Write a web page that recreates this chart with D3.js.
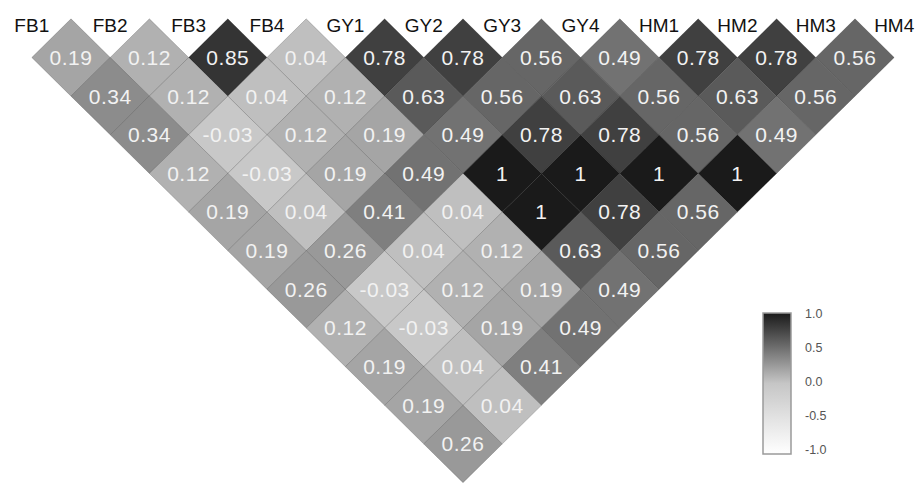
<!DOCTYPE html>
<html>
<head>
<meta charset="utf-8">
<script src="https://cdn.jsdelivr.net/npm/d3@7"></script>
<style>
  body { margin: 0; background: #fff; }
  svg { display: block; font-family: "Liberation Sans", Arial, sans-serif; }
</style>
</head>
<body>
<div id="chart"></div>
<script>
// chart.js

const width = 920,
    height = 485;

const traits = ["FB1", "FB2", "FB3", "FB4", "GY1", "GY2", "GY3", "GY4", "HM1", "HM2", "HM3", "HM4"];

// correlations read along each band of the triangle, band k = pairs (i, i+k)
const band1 = [0.19, 0.12, 0.85, 0.04, 0.78, 0.78, 0.56, 0.49, 0.78, 0.78, 0.56];
const band2 = [0.34, 0.12, 0.04, 0.12, 0.63, 0.56, 0.63, 0.56, 0.63, 0.56];
const band3 = [0.34, -0.03, 0.12, 0.19, 0.49, 0.78, 0.78, 0.56, 0.49];
const band4 = [0.12, -0.03, 0.19, 0.49, 1, 1, 1, 1];
const band5 = [0.19, 0.04, 0.41, 0.04, 1, 0.78, 0.56];
const band6 = [0.19, 0.26, 0.04, 0.12, 0.63, 0.56];
const band7 = [0.26, -0.03, 0.12, 0.19, 0.49];
const band8 = [0.12, -0.03, 0.19, 0.49];
const band9 = [0.19, 0.04, 0.41];
const band10 = [0.19, 0.04];
const band11 = [0.26];

const bands = [band1, band2, band3, band4, band5, band6, band7, band8, band9, band10, band11];

const legendTicks = [-1, -0.5, 0, 0.5, 1];

const cells = [];
bands.forEach((vals, b) => {
    vals.forEach((v, i) => {
        cells.push({i: i, j: i + b + 1, lag: b + 1, value: v});
    });
});

const svg = d3.select("#chart")
    .append("svg")
    .attr("width", width)
    .attr("height", height);

const x = d3.scalePoint()
    .domain(d3.range(traits.length))
    .range([31.8, 894.2]);

const y = d3.scaleLinear()
    .domain([1, traits.length - 1])
    .range([57.5, 444]);

const hw = x.step() / 2,
    hh = (y(2) - y(1));

const color = d3.scaleLinear()
    .domain([-1, 0, 1])
    .range(["#ffffff", "#c6c6c6", "#1a1a1a"]);

const cell = svg.append("g").selectAll(".cell")
    .data(cells)
    .enter().append("g")
    .attr("class", "cell")
    .attr("transform", d => `translate(${(x(d.i) + x(d.j)) / 2}, ${y(d.lag)})`);

cell.append("path")
    .attr("d", `M0,${-hh}L${hw},0L0,${hh}L${-hw},0Z`)
    .attr("fill", d => color(d.value))
    .attr("stroke", "rgba(0,0,0,0.22)")
    .attr("stroke-width", 0.8);

cell.append("text")
    .attr("text-anchor", "middle")
    .attr("dy", "0.35em")
    .attr("font-size", 21)
    .attr("letter-spacing", 0.5)
    .attr("fill", "#f2f2f2")
    .text(d => String(d.value));

// trait names sit in the notches along the top edge
svg.append("g").selectAll(".label")
    .data(traits)
    .enter().append("text")
    .attr("class", "label")
    .attr("x", (d, i) => x(i))
    .attr("y", 32)
    .attr("text-anchor", "middle")
    .attr("font-size", 19)
    .attr("fill", "#111")
    .text(d => d);

// colour key
const legY = d3.scaleLinear().domain([-1, 1]).range([449, 313]);

const grad = svg.append("defs").append("linearGradient")
    .attr("id", "key")
    .attr("x1", 0).attr("y1", 1)
    .attr("x2", 0).attr("y2", 0);

grad.selectAll("stop")
    .data(d3.range(-1, 1.001, 0.25))
    .enter().append("stop")
    .attr("offset", d => (d + 1) / 2)
    .attr("stop-color", d => color(d));

svg.append("rect")
    .attr("x", 763)
    .attr("y", 313)
    .attr("width", 28)
    .attr("height", 141)
    .attr("fill", "url(#key)")
    .attr("stroke", "#9a9a9a")
    .attr("stroke-width", 1.5);

const legAxis = svg.append("g")
    .attr("transform", "translate(799,0)")
    .call(d3.axisRight(legY)
        .tickValues(legendTicks)
        .tickSize(0)
        .tickPadding(6)
        .tickFormat(d => d.toFixed(1)));

legAxis.select(".domain").remove();
legAxis.selectAll("text")
    .attr("font-size", 12.5)
    .attr("font-family", "\"Liberation Sans\", Arial, sans-serif")
    .attr("fill", "#555");
</script>
</body>
</html>
